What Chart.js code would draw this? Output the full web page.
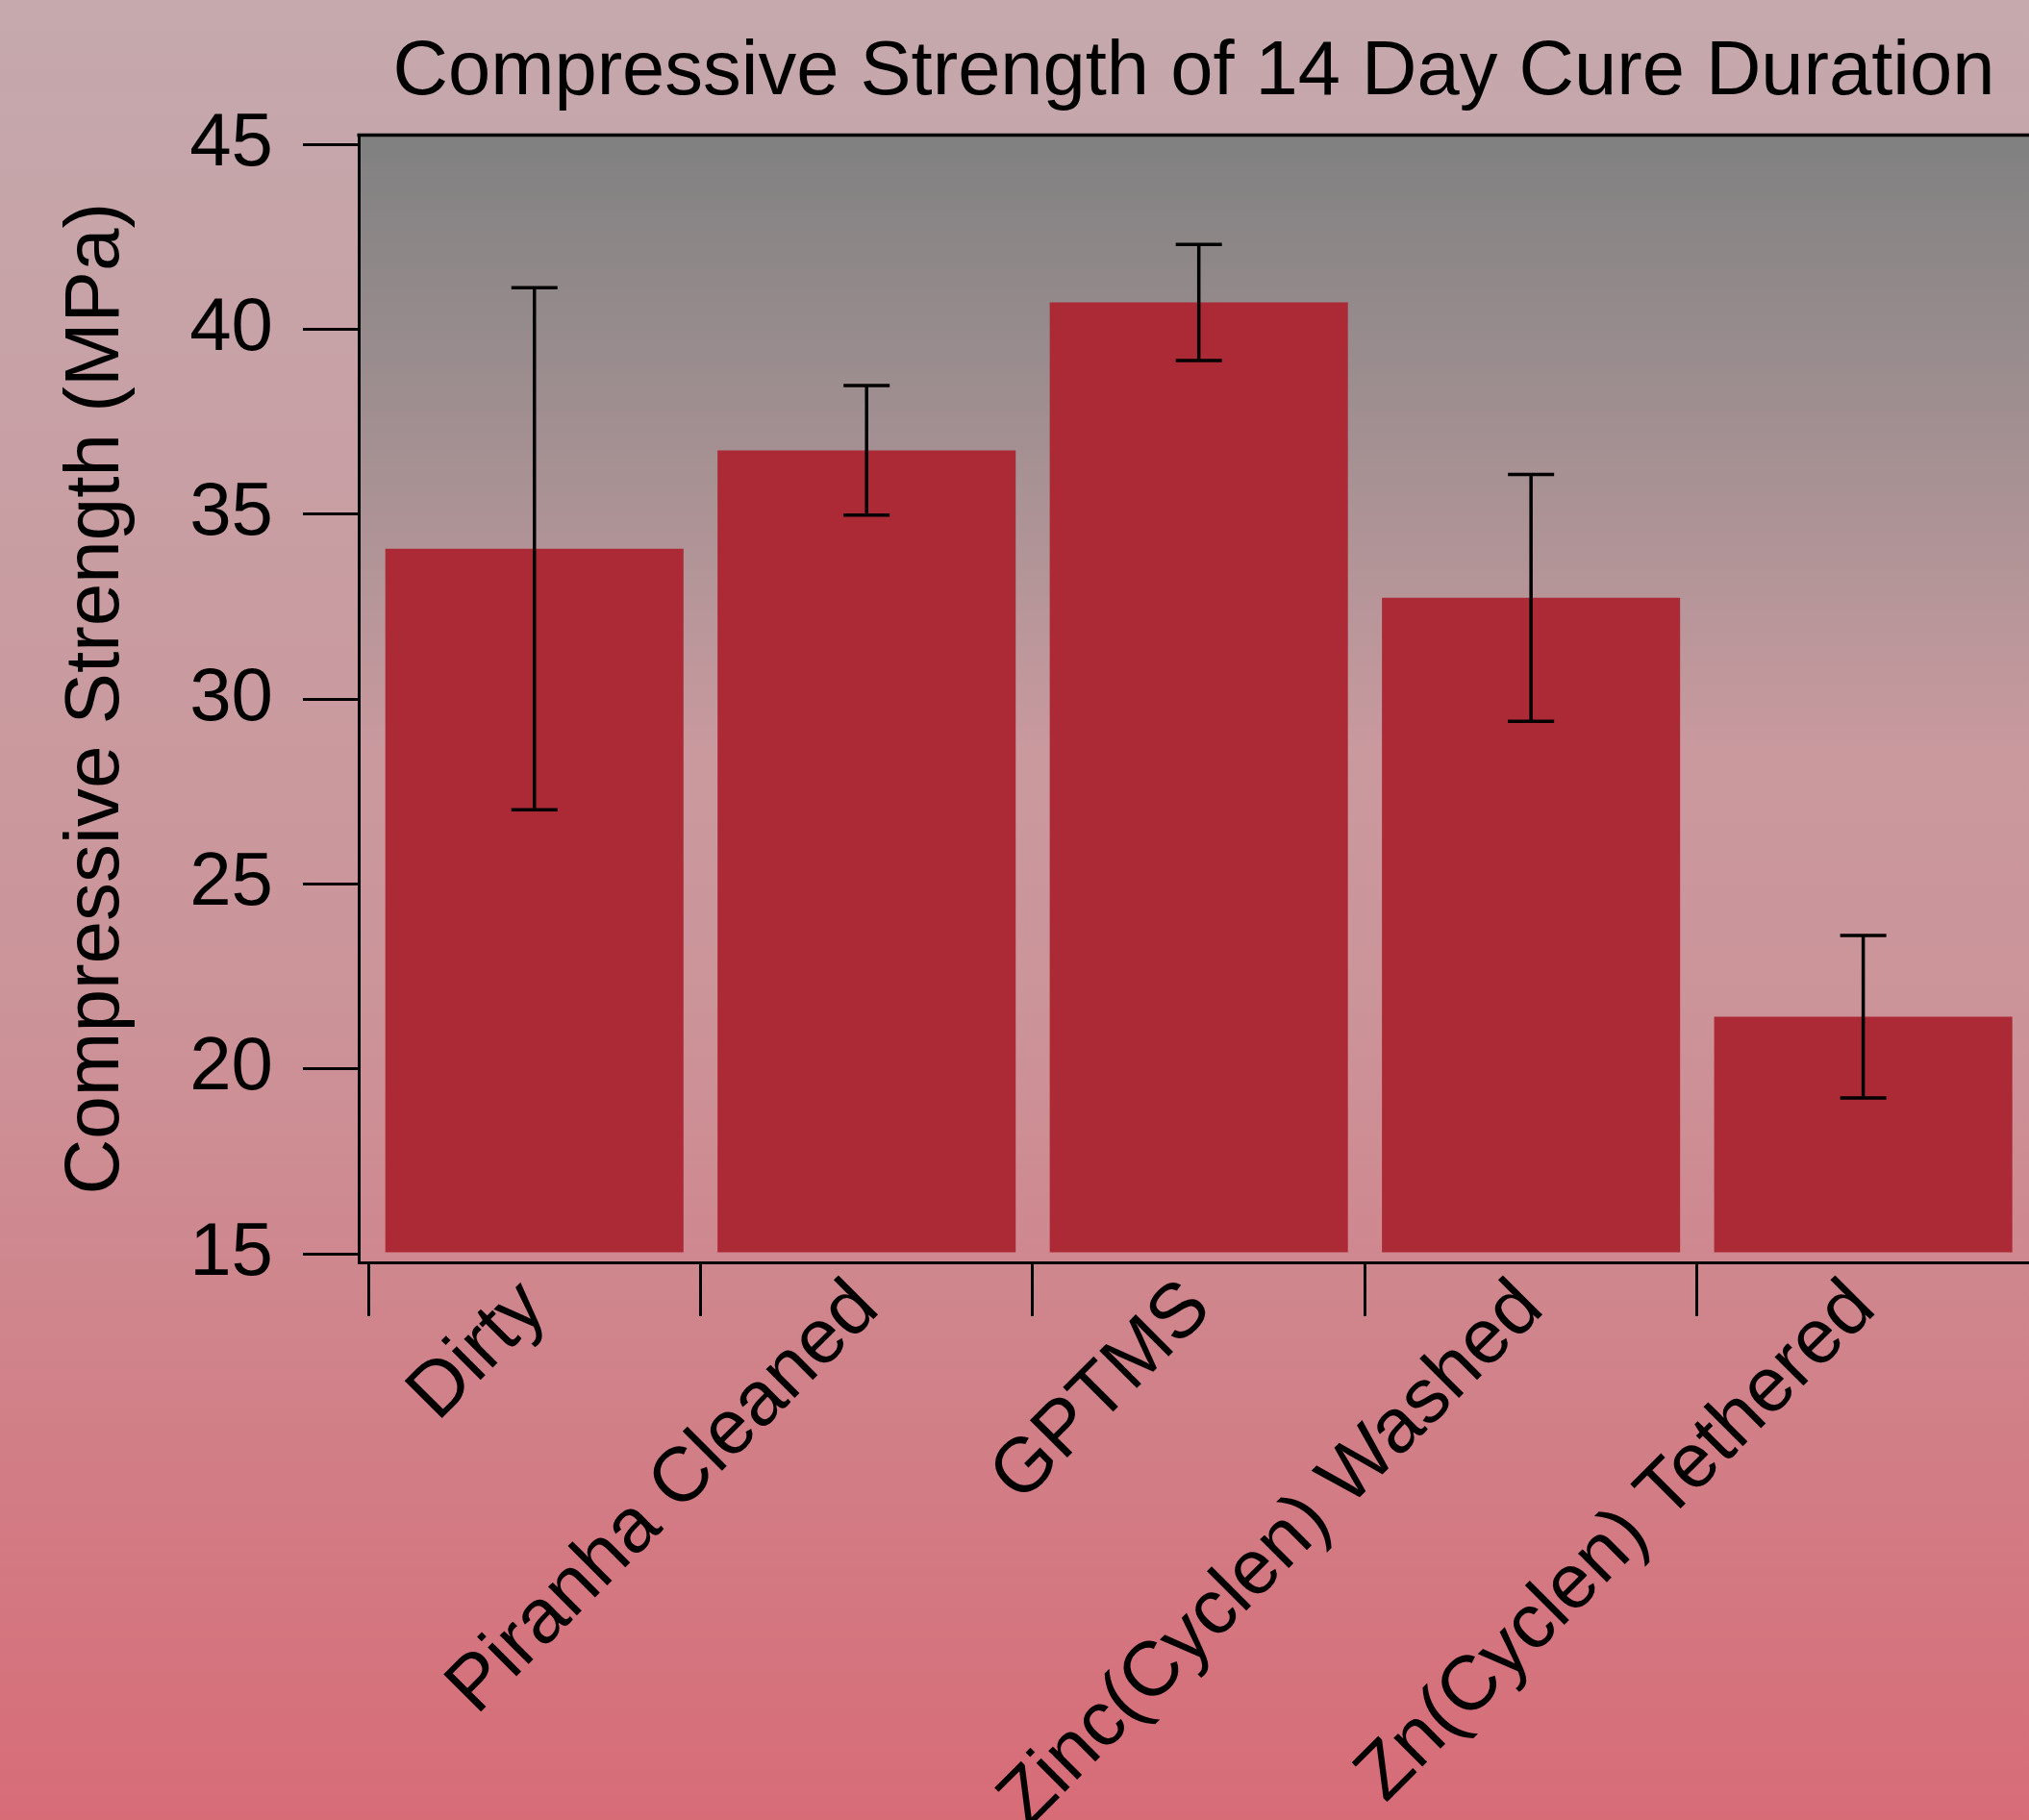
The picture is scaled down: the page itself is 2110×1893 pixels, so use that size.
<!DOCTYPE html>
<html>
<head>
<meta charset="utf-8">
<title>Compressive Strength</title>
<script src="https://cdn.jsdelivr.net/npm/chart.js@4.4.1/dist/chart.umd.min.js"></script>
<style>
    html, body {
        margin: 0;
        padding: 0;
        overflow: hidden;
    }
</style>
</head>
<body>
<canvas id="myChart" width="2110" height="1893"></canvas>

<script>
    // values
    let aCategories = ["Dirty", "Piranha Cleaned", "GPTMS", "Zinc(Cyclen) Washed", "Zn(Cyclen) Tethered"];
    let aStrength = [34.07, 36.73, 40.73, 32.74, 21.41];
    let aStdDev = [7.06, 1.75, 1.57, 3.34, 2.20];
    let aYTicks = [15, 20, 25, 30, 35, 40, 45];

    let sFont = "'Liberation Sans', Arial, Helvetica, sans-serif";

    // page + plot backgrounds
    let backgroundPlugin = {
        id: 'backgrounds',
        beforeDraw: function (chart) {
            let ctx = chart.ctx;
            let area = chart.chartArea;
            ctx.save();
            let g = ctx.createLinearGradient(0, 0, 0, chart.height);
            g.addColorStop(0, 'rgb(197,169,173)');
            g.addColorStop(0.55, 'rgb(203,148,153)');
            g.addColorStop(1, 'rgb(215,108,119)');
            ctx.fillStyle = g;
            ctx.fillRect(0, 0, chart.width, chart.height);

            let g2 = ctx.createLinearGradient(0, area.top, 0, area.bottom);
            g2.addColorStop(0, 'rgba(128,128,128,1)');
            g2.addColorStop(0.55, 'rgba(128,128,128,0)');
            g2.addColorStop(1, 'rgba(128,128,128,0)');
            ctx.fillStyle = g2;
            ctx.fillRect(area.left, area.top, area.right - area.left, area.bottom - area.top);
            ctx.restore();
        }
    };

    // error bars and the top edge of the frame
    let errorBarPlugin = {
        id: 'errorBars',
        afterDraw: function (chart) {
            let ctx = chart.ctx;
            let xScale = chart.scales.x;
            let yScale = chart.scales.y;
            let area = chart.chartArea;
            ctx.save();
            ctx.strokeStyle = '#000';
            ctx.lineWidth = 3.5;

            ctx.beginPath();
            ctx.moveTo(area.left - 1.5, area.top);
            ctx.lineTo(area.right, area.top);
            ctx.stroke();

            for (let i = 0; i < aStrength.length; i++) {
                let x = xScale.getPixelForValue(i);
                let yHi = yScale.getPixelForValue(aStrength[i] + aStdDev[i]);
                let yLo = yScale.getPixelForValue(aStrength[i] - aStdDev[i]);
                ctx.beginPath();
                ctx.moveTo(x, yHi);
                ctx.lineTo(x, yLo);
                ctx.moveTo(x - 24, yHi);
                ctx.lineTo(x + 24, yHi);
                ctx.moveTo(x - 24, yLo);
                ctx.lineTo(x + 24, yLo);
                ctx.stroke();
            }
            ctx.restore();
        }
    };

    let ctx = document.getElementById('myChart').getContext('2d');
    let myChart = new Chart(ctx, {
        type: 'bar',
        data: {
            datasets: [{
                label: 'Compressive Strength',
                data: aStrength.map(function (v, i) { return { x: i, y: v }; }),
                backgroundColor: '#ac2936',
                borderWidth: 0,
                base: 15,
                categoryPercentage: 1,
                barPercentage: 0.8975
            }]
        },
        options: {
            responsive: false,
            animation: false,
            devicePixelRatio: 1,
            layout: { padding: 0 },
            plugins: {
                legend: { display: false },
                tooltip: { enabled: false },
                title: {
                    display: true,
                    text: 'Compressive Strength of 14 Day Cure Duration',
                    color: '#000',
                    fullSize: false,
                    font: { family: sFont, size: 79.5, weight: 'normal' },
                    padding: { top: 28, bottom: 17 }
                }
            },
            scales: {
                x: {
                    type: 'linear',
                    bounds: 'data',
                    offset: false,
                    min: -0.529,
                    max: 4.499,
                    afterBuildTicks: function (scale) {
                        scale.ticks = aCategories.map(function (c, i) { return { value: i }; });
                    },
                    afterFit: function (scale) { scale.height = 580; },
                    grid: {
                        offset: true,
                        drawOnChartArea: false,
                        drawTicks: true,
                        tickLength: 56,
                        color: '#000',
                        lineWidth: 3
                    },
                    border: { display: true, color: '#000', width: 3 },
                    ticks: {
                        callback: function (v) { return aCategories[v]; },
                        autoSkip: false,
                        minRotation: 45,
                        maxRotation: 45,
                        padding: -55,
                        color: '#000',
                        font: { family: sFont, size: 80 }
                    }
                },
                y: {
                    type: 'linear',
                    bounds: 'data',
                    min: 14.766,
                    max: 45.26,
                    afterBuildTicks: function (scale) {
                        scale.ticks = aYTicks.map(function (v) { return { value: v }; });
                    },
                    afterFit: function (scale) { scale.width = 373; },
                    grid: {
                        drawOnChartArea: false,
                        drawTicks: true,
                        tickLength: 58,
                        color: '#000',
                        lineWidth: 3
                    },
                    border: { display: true, color: '#000', width: 3 },
                    ticks: {
                        padding: 31,
                        color: '#000',
                        font: { family: sFont, size: 78 }
                    },
                    title: {
                        display: true,
                        text: 'Compressive Strength (MPa)',
                        color: '#000',
                        font: { family: sFont, size: 80 },
                        padding: { top: 53, bottom: 0 }
                    }
                }
            }
        },
        plugins: [backgroundPlugin, errorBarPlugin]
    });
</script>
</body>
</html>
